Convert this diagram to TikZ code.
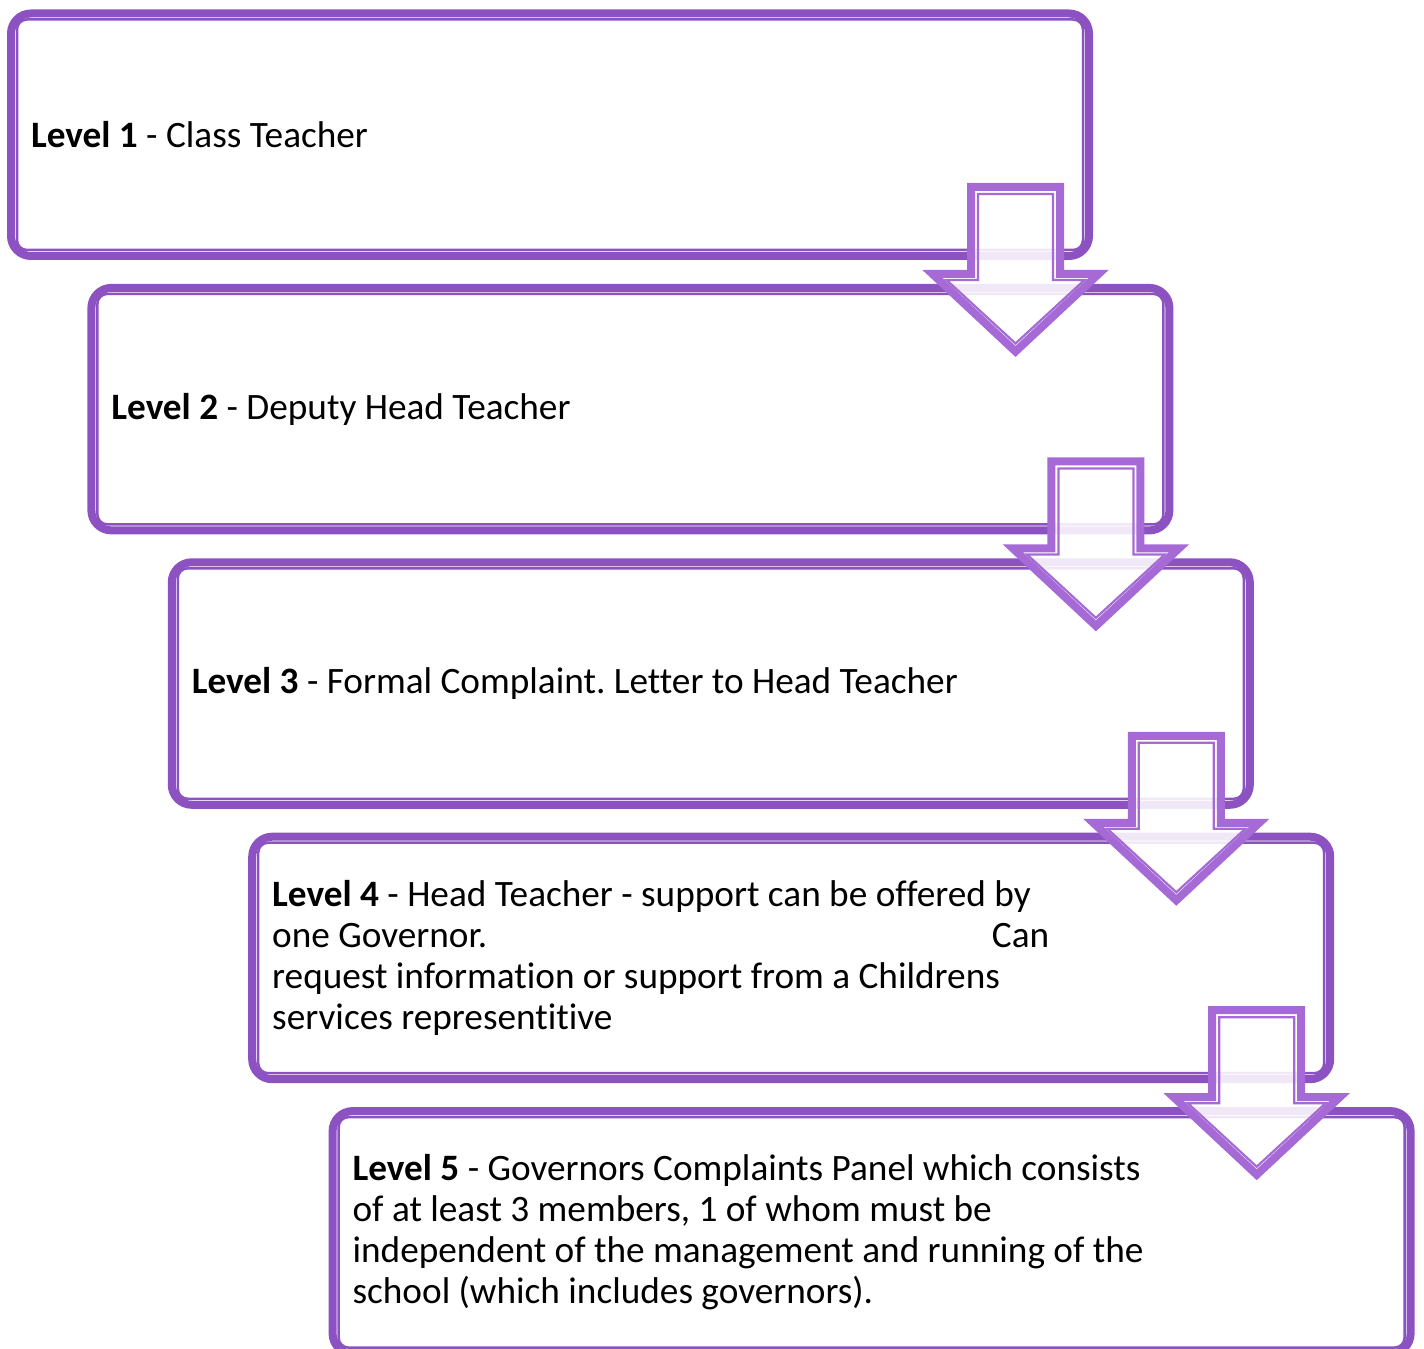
\documentclass[tikz,border=0pt]{standalone}
\usepackage{fontspec}
\setmainfont{Carlito}[Ligatures={TeX,NoCommon}]
\usepackage{tikz}
\usepackage{xcolor}
\definecolor{boxpurple}{RGB}{141,82,194}
\definecolor{arrowpurple}{RGB}{166,106,214}
\frenchspacing

\begin{document}
\begin{tikzpicture}[line join=miter,
  font=\fontsize{21.2}{23.3}\selectfont,
  level/.style={draw=boxpurple,line width=0.16cm,rounded corners=0.4cm,
    minimum height=4.85cm,text width=20.76cm,inner xsep=0.4cm,align=flush left},
  rimthin/.style={draw=boxpurple,line width=0.05cm,rounded corners=0.2cm},
  pics/stepdown/.style={code={
    \path[fill=white,fill opacity=0.87,draw=arrowpurple,line width=0.16cm]
      (-0.89,0) -- (0.89,0) -- (0.89,-1.74) -- (1.66,-1.74) -- (0,-3.29)
      -- (-1.66,-1.74) -- (-0.89,-1.74) -- cycle;
    \draw[arrowpurple,line width=0.045cm]
      (-0.75,-0.14) -- (0.75,-0.14) -- (0.75,-1.86) -- (1.38,-1.86) -- (0,-3.13)
      -- (-1.38,-1.86) -- (-0.75,-1.86) -- cycle;
  }}]
\useasboundingbox (0,0) rectangle (28.48,26.98);

\node[level] (lvl1) at (11.0,24.285) {\textbf{Level 1} - Class Teacher};
\node[level] (lvl2) at (12.608,18.797) {\textbf{Level 2} - Deputy Head Teacher};
\node[level] (lvl3) at (14.216,13.309) {\textbf{Level 3} - Formal Complaint. Letter to Head Teacher};
\node[level] (lvl4) at (15.824,7.821) {\textbf{Level 4} - Head Teacher - support can be offered by\\
  \makebox[15.54cm][l]{one Governor.\hfill Can}\\
  request information or support from a Childrens\\
  services representitive};
\node[level] (lvl5) at (17.432,2.333) {\textbf{Level 5} - Governors Complaints Panel which consists\\
  of at least 3 members, 1 of whom must be\\
  independent of the management and running of the\\
  school (which includes governors).};

% thin inner rim of each box
\foreach \n in {lvl1,lvl2,lvl3,lvl4,lvl5}
  \draw[rimthin] ([shift={(0.2,0.2)}]\n.south west) rectangle ([shift={(-0.2,-0.2)}]\n.north east);

% down arrows between the levels
\pic at ([shift={(-1.55,-3.55)}]lvl1.north east) {stepdown};
\pic at ([shift={(-1.55,-3.55)}]lvl2.north east) {stepdown};
\pic at ([shift={(-1.55,-3.55)}]lvl3.north east) {stepdown};
\pic at ([shift={(-1.55,-3.55)}]lvl4.north east) {stepdown};
\end{tikzpicture}
\end{document}
